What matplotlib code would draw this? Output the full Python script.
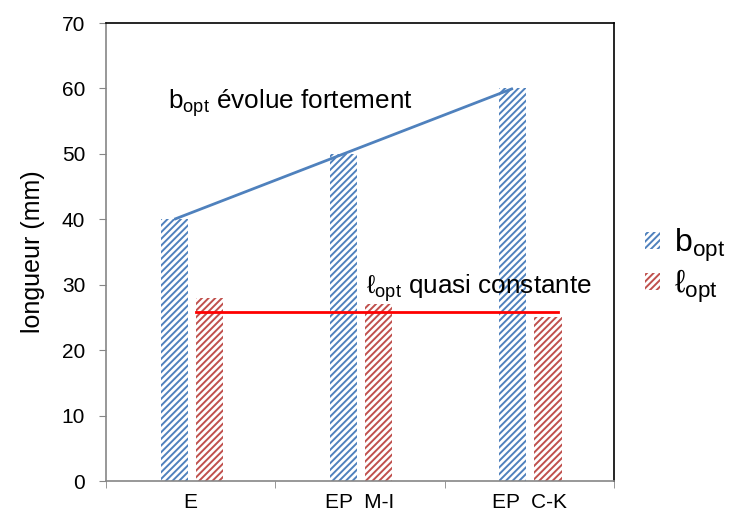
import matplotlib.pyplot as plt
import numpy as np

plt.rcParams['font.family'] = ['Liberation Sans', 'DejaVu Sans']
plt.rcParams['mathtext.fontset'] = 'custom'
plt.rcParams['mathtext.rm'] = 'Liberation Sans'
plt.rcParams['hatch.linewidth'] = 1.4

categories = ["E", "EP  M-I", "EP  C-K"]
b_opt = [40, 50, 60]
l_opt = [28, 27, 25]
l_level = 25.8

blue = "#4F81BD"
red = "#C0504D"

fig = plt.figure(figsize=(7.35, 5.15), dpi=100)
ax = fig.add_axes([0.1442, 0.066, 0.6912, 0.8893])

x = np.arange(len(categories))
w = 0.16
xb = x - 0.097
xl = x + 0.11
ax.bar(xb, b_opt, w, color="white", edgecolor=blue, hatch="/////", linewidth=0, label=r"b$_{\mathrm{opt}}$")
ax.bar(xl, l_opt, w, color="white", edgecolor=red, hatch="/////", linewidth=0, label="ℓ$_{\\mathrm{opt}}$")

# tendency lines
ax.plot([xb[0], xb[-1]], [b_opt[0], b_opt[-1]], color=blue, lw=2.0, solid_capstyle="butt")
ax.plot([xl[0] - w / 2, xl[-1] + w / 2 - 0.02], [l_level, l_level], color="red", lw=2.0)

ax.text(-0.134, 57, r"b$_{\mathrm{opt}}$ évolue fortement", fontsize=18.8)
ax.text(1.036, 28.7, "ℓ$_{\\mathrm{opt}}$ quasi constante", fontsize=18.8)

ax.set_xlim(-0.5, 2.5)
ax.set_ylim(0, 70)
ax.set_yticks(range(0, 71, 10))
ax.set_xticks(x)
ax.set_xticklabels(categories, fontsize=15)
ax.set_xticks([-0.5, 0.5, 1.5, 2.5], minor=True)
ax.tick_params(axis="x", which="major", length=0, pad=8.5)
ax.tick_params(axis="x", which="minor", length=5, color="#868686")
ax.tick_params(axis="y", labelsize=15, length=5, color="#868686", pad=10)
ax.set_ylabel("longueur (mm)", fontsize=18, labelpad=12)

for s in ["left", "bottom"]:
    ax.spines[s].set_color("#868686")
for s in ["top", "right"]:
    ax.spines[s].set_color("black")
for s in ax.spines.values():
    s.set_linewidth(1.2)

leg = fig.legend(loc="center left", bbox_to_anchor=(0.838, 0.4835), frameon=False,
                 prop={"size": 23},
                 handlelength=0.47, handleheight=0.47, handletextpad=0.45, labelspacing=0.12)

fig.savefig("out.png", dpi=100)
